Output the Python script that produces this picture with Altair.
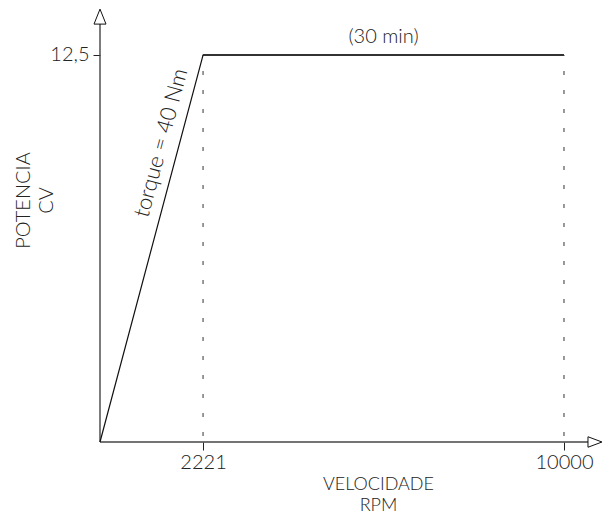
import altair as alt
import pandas as pd

# ---- data ----
curve_x = [0, 2221, 10000]
curve_y = [0, 12.5, 12.5]
ref_x = [2221, 10000]
ref_top = [12.5, 12.5]
x_ticks = [2221, 10000]
y_ticks = [12.5]
x_title = ["VELOCIDADE", "RPM"]
y_title = ["POTENCIA", "CV"]
notes = ["torque = 40 Nm", "(30 min)"]
note_x = [1690, 6110.5]
note_y = [9.51, 12.5]

# axis extents (data units) for the drawn arrows
x_max, y_max = 10841, 14.018
x_arrow, y_arrow = 10668, 13.74

FONT = "Lato"
INK = "#222222"

xs = alt.Scale(domain=[0, x_max], nice=False, zero=False)
ys = alt.Scale(domain=[0, y_max], nice=False, zero=False)

x_axis = alt.Axis(values=x_ticks, domain=False, grid=False, ticks=True, tickSize=8,
                  tickColor=INK, tickWidth=1, labelFont=FONT, labelFontSize=20,
                  labelFontWeight=300, labelColor=INK, labelPadding=2, format="d",
                  title=x_title, titleFont=FONT, titleFontSize=18, titleFontWeight=300,
                  titleColor=INK, titleX=278, titleY=47, titleAlign="center",
                  titleBaseline="alphabetic", titleLineHeight=21)
y_axis = alt.Axis(values=y_ticks, domain=False, grid=False, ticks=True, tickSize=7,
                  tickColor=INK, tickWidth=1, labelFont=FONT, labelFontSize=20,
                  labelFontWeight=300, labelColor=INK, labelPadding=4,
                  labelExpr="replace(format(datum.value, '.1f'), '.', ',')",
                  title=y_title, titleFont=FONT, titleFontSize=20, titleFontWeight=300,
                  titleColor=INK, titleAngle=270, titleX=-87, titleY=192,
                  titleAlign="center", titleBaseline="top", titleLineHeight=23)


def X(field):
    return alt.X(field, type="quantitative", scale=xs, axis=x_axis)


def Y(field):
    return alt.Y(field, type="quantitative", scale=ys, axis=y_axis)


curve_df = pd.DataFrame({"x": curve_x, "y": curve_y})
ref_df = pd.DataFrame({"x": ref_x, "y0": [0, 0], "y1": ref_top})
axes_df = pd.DataFrame({"x": [0, 0], "x2": [0, x_arrow], "y": [0, 0], "y2": [y_arrow, 0]})
arrow_up = pd.DataFrame({"x": [0], "y": [y_arrow]})
arrow_right = pd.DataFrame({"x": [x_arrow], "y": [0]})
note_df = pd.DataFrame({"t": notes, "x": note_x, "y": note_y})

dashes = alt.Chart(ref_df).mark_rule(color="#555555", strokeWidth=1.2,
                                     strokeDash=[4, 15], strokeDashOffset=-6).encode(
    x=X("x"), y=Y("y0"), y2="y1")

axis_lines = alt.Chart(axes_df).mark_rule(color="#444444", strokeWidth=1.4).encode(
    x=X("x"), x2="x2", y=Y("y"), y2="y2")

curve = alt.Chart(curve_df).mark_line(color="#111111", strokeWidth=1.2, clip=False).encode(
    x=X("x"), y=Y("y"), order=alt.Order("x:Q"))

top_line = alt.Chart(curve_df[curve_df.x >= 2221]).mark_line(
    color="#555555", strokeWidth=1.8).encode(x=X("x"), y=Y("y"))

up = alt.Chart(arrow_up).mark_point(shape="M0,-1L-0.8,1L0.8,1Z", size=225, filled=True,
                                    fill="white", stroke="#111111", strokeWidth=1,
                                    opacity=1).encode(x=X("x"), y=Y("y"))
right = alt.Chart(arrow_right).mark_point(shape="M1,0L-1,-0.75L-1,0.75Z", size=196,
                                          filled=True, fill="white", stroke="#111111",
                                          strokeWidth=1, opacity=1).encode(x=X("x"), y=Y("y"))

torque = alt.Chart(note_df.iloc[[0]]).mark_text(
    font=FONT, fontSize=22, fontWeight=300, color=INK, angle=285, dy=-18,
    align="center", baseline="middle").encode(x=X("x"), y=Y("y"), text="t:N")

regime = alt.Chart(note_df.iloc[[1]]).mark_text(
    font=FONT, fontSize=20, fontWeight=300, color=INK, dy=-18,
    align="center", baseline="middle").encode(x=X("x"), y=Y("y"), text="t:N")

chart = alt.layer(dashes, axis_lines, top_line, curve, up, right, torque, regime).properties(
    width=503, height=434,
    padding={"left": 92, "top": 0, "right": 0, "bottom": 72},
    autosize=alt.AutoSizeParams(type="none"),
    background="white",
).configure_view(stroke=None)

chart.save("out.html", embed_options={"renderer": "svg", "actions": False})
